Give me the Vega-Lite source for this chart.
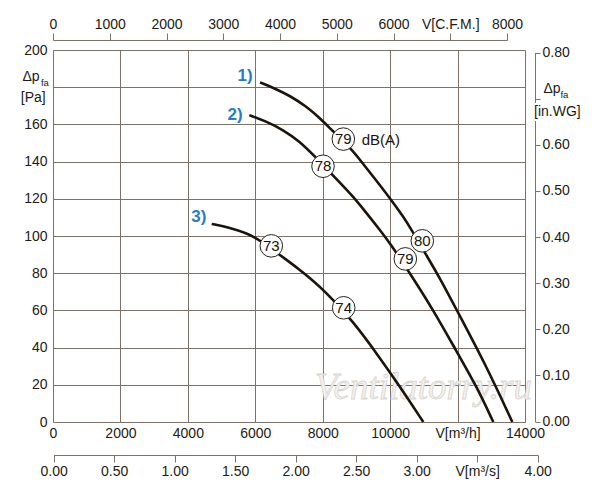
{
  "$schema": "https://vega.github.io/schema/vega-lite/v6.json",
  "width": 472,
  "height": 372,
  "autosize": {"type": "none"},
  "padding": {"left": 53, "top": 50, "right": 75, "bottom": 78},
  "background": "white",
  "config": {
    "font": "Liberation Sans",
    "view": {"stroke": null},
    "axis": {
      "labelFont": "Liberation Sans",
      "labelFontSize": 14,
      "labelColor": "#231a12",
      "domainColor": "#7d7168",
      "tickColor": "#7d7168",
      "gridColor": "#7d7168",
      "gridOpacity": 1,
      "gridWidth": 1,
      "labelOverlap": false,
      "labelFlush": false,
      "labelBound": false,
      "title": null
    }
  },
  "datasets": {
    "curves": [
      {"curve": "1", "q": 6140, "p": 182.6},
      {"curve": "1", "q": 6534, "p": 179.7},
      {"curve": "1", "q": 7030, "p": 175.4},
      {"curve": "1", "q": 7525, "p": 169.5},
      {"curve": "1", "q": 7920, "p": 163.3},
      {"curve": "1", "q": 8266, "p": 157.0},
      {"curve": "1", "q": 8860, "p": 146.6},
      {"curve": "1", "q": 9106, "p": 140.9},
      {"curve": "1", "q": 9501, "p": 131.9},
      {"curve": "1", "q": 9996, "p": 120.3},
      {"curve": "1", "q": 10390, "p": 110.4},
      {"curve": "1", "q": 10639, "p": 103.2},
      {"curve": "1", "q": 11034, "p": 90.9},
      {"curve": "1", "q": 11479, "p": 77.3},
      {"curve": "1", "q": 11974, "p": 60.2},
      {"curve": "1", "q": 12864, "p": 29.7},
      {"curve": "1", "q": 13624, "p": 0},
      {"curve": "2", "q": 5823, "p": 165.0},
      {"curve": "2", "q": 6339, "p": 161.5},
      {"curve": "2", "q": 6831, "p": 157.0},
      {"curve": "2", "q": 7326, "p": 150.7},
      {"curve": "2", "q": 7673, "p": 144.5},
      {"curve": "2", "q": 8513, "p": 128.7},
      {"curve": "2", "q": 8907, "p": 121.1},
      {"curve": "2", "q": 9305, "p": 112.2},
      {"curve": "2", "q": 9699, "p": 103.2},
      {"curve": "2", "q": 9996, "p": 96.1},
      {"curve": "2", "q": 10589, "p": 79.9},
      {"curve": "2", "q": 11280, "p": 60.2},
      {"curve": "2", "q": 11974, "p": 37.8},
      {"curve": "2", "q": 12568, "p": 19.0},
      {"curve": "2", "q": 13060, "p": 0},
      {"curve": "3", "q": 4707, "p": 106.5},
      {"curve": "3", "q": 5250, "p": 104.5},
      {"curve": "3", "q": 5745, "p": 101.5},
      {"curve": "3", "q": 6089, "p": 98.4},
      {"curve": "3", "q": 6932, "p": 87.1},
      {"curve": "3", "q": 7326, "p": 81.7},
      {"curve": "3", "q": 7623, "p": 77.4},
      {"curve": "3", "q": 7920, "p": 72.6},
      {"curve": "3", "q": 8266, "p": 66.5},
      {"curve": "3", "q": 8907, "p": 53.9},
      {"curve": "3", "q": 9601, "p": 36.9},
      {"curve": "3", "q": 10292, "p": 19.0},
      {"curve": "3", "q": 10984, "p": 0}
    ],
    "noise": [
      {"q": 8611, "p": 152.1, "db": "79"},
      {"q": 10954, "p": 97.4, "db": "80"},
      {"q": 8009, "p": 137.5, "db": "78"},
      {"q": 10450, "p": 87.7, "db": "79"},
      {"q": 6475, "p": 94.7, "db": "73"},
      {"q": 8622, "p": 61.4, "db": "74"}
    ],
    "curveLabels": [
      {"q": 5695, "p": 186.0, "t": "1)"},
      {"q": 5398, "p": 165.0, "t": "2)"},
      {"q": 4325, "p": 110.4, "t": "3)"}
    ],
    "unitText": [
      {"q": -652, "p": 185.3, "t": "Δp"},
      {"q": -584, "p": 174.0, "t": "[Pa]"},
      {"q": 14800, "p": 178.8, "t": "Δp"},
      {"q": 14960, "p": 166.8, "t": "[in.WG]"}
    ],
    "subText": [
      {"q": -240, "p": 182.0, "t": "fa"},
      {"q": 15170, "p": 175.6, "t": "fa"}
    ],
    "dbText": [{"q": 9156, "p": 151.6, "t": "dB(A)"}],
    "watermark": [{"q": 10989, "p": 18.3, "t": "Ventilatorry.ru"}],
    "cfm": [{"cfm": 0}, {"cfm": 8000}],
    "m3s": [{"m3s": 0}, {"m3s": 4}],
    "inwg": [{"wg": 0}, {"wg": 0.8}]
  },
  "layer": [
    {
      "encoding": {
        "x": {
          "field": "q",
          "type": "quantitative",
          "scale": {"domain": [0, 14000], "nice": false, "zero": false},
          "axis": {
            "orient": "bottom",
            "values": [0, 2000, 4000, 6000, 8000, 10000, 12000, 14000],
            "format": "d",
            "labelExpr": "datum.value == 12000 ? 'V[m³/h]' : datum.label",
            "ticks": false,
            "domain": false,
            "grid": true,
            "labelPadding": 4
          }
        },
        "y": {
          "field": "p",
          "type": "quantitative",
          "scale": {"domain": [0, 200], "nice": false, "zero": false},
          "axis": {
            "orient": "left",
            "values": [0, 20, 40, 60, 80, 100, 120, 140, 160, 180, 200],
            "format": "d",
            "labelExpr": "datum.value == 180 ? '' : datum.label",
            "ticks": false,
            "domain": false,
            "grid": true,
            "labelPadding": 6
          }
        }
      },
      "layer": [
        {
          "data": {"name": "watermark"},
          "mark": {
            "type": "text",
            "font": "Liberation Serif",
            "fontStyle": "italic",
            "fontSize": 37,
            "fill": "#f3f1ef",
            "stroke": "#d9d4cf",
            "strokeWidth": 0.8,
            "align": "center",
            "baseline": "middle"
          },
          "encoding": {"text": {"field": "t"}}
        },
        {
          "data": {"name": "curves"},
          "mark": {
            "type": "line",
            "interpolate": "basis",
            "color": "#1c130b",
            "strokeWidth": 2.6
          },
          "encoding": {"detail": {"field": "curve"}}
        },
        {
          "data": {"name": "noise"},
          "mark": {
            "type": "point",
            "shape": "circle",
            "filled": true,
            "fill": "white",
            "stroke": "#2a2018",
            "strokeWidth": 1,
            "size": 510,
            "opacity": 1
          }
        },
        {
          "data": {"name": "noise"},
          "mark": {
            "type": "text",
            "fontSize": 15,
            "color": "#1c130b",
            "align": "center",
            "baseline": "middle"
          },
          "encoding": {"text": {"field": "db"}}
        },
        {
          "data": {"name": "curveLabels"},
          "mark": {
            "type": "text",
            "fontSize": 17,
            "fontWeight": "bold",
            "color": "#2b7cc2",
            "align": "center",
            "baseline": "middle"
          },
          "encoding": {"text": {"field": "t"}}
        },
        {
          "data": {"name": "dbText"},
          "mark": {
            "type": "text",
            "fontSize": 15,
            "color": "#1c130b",
            "align": "left",
            "baseline": "middle"
          },
          "encoding": {"text": {"field": "t"}}
        },
        {
          "data": {"name": "unitText"},
          "mark": {
            "type": "text",
            "fontSize": 14,
            "stroke": "white",
            "strokeWidth": 4,
            "fill": "white",
            "align": "center",
            "baseline": "middle"
          },
          "encoding": {"text": {"field": "t"}}
        },
        {
          "data": {"name": "unitText"},
          "mark": {
            "type": "text",
            "fontSize": 14,
            "color": "#231a12",
            "align": "center",
            "baseline": "middle"
          },
          "encoding": {"text": {"field": "t"}}
        },
        {
          "data": {"name": "subText"},
          "mark": {
            "type": "text",
            "fontSize": 9.5,
            "color": "#231a12",
            "align": "center",
            "baseline": "middle"
          },
          "encoding": {"text": {"field": "t"}}
        },
        {
          "data": {"values": [{}]},
          "mark": {
            "type": "rect",
            "filled": false,
            "stroke": "#1c130b",
            "strokeWidth": 3
          },
          "encoding": {
            "x": {"datum": 0, "type": "quantitative"},
            "x2": {"datum": 14000},
            "y": {"datum": 0, "type": "quantitative"},
            "y2": {"datum": 200}
          }
        }
      ]
    },
    {
      "data": {"name": "cfm"},
      "mark": {"type": "point", "opacity": 0},
      "encoding": {
        "x": {
          "field": "cfm",
          "type": "quantitative",
          "scale": {"domain": [0, 8000], "range": [0, 454], "nice": false, "zero": false},
          "axis": {
            "orient": "top",
            "offset": 10,
            "values": [0, 1000, 2000, 3000, 4000, 5000, 6000, 7000, 8000],
            "format": "d",
            "labelExpr": "datum.value == 7000 ? 'V[C.F.M.]' : datum.label",
            "tickSize": 7,
            "labelPadding": 2,
            "grid": false
          }
        }
      }
    },
    {
      "data": {"name": "m3s"},
      "mark": {"type": "point", "opacity": 0},
      "encoding": {
        "x": {
          "field": "m3s",
          "type": "quantitative",
          "scale": {"domain": [0, 4], "range": [0.7, 484.7], "nice": false, "zero": false},
          "axis": {
            "orient": "bottom",
            "offset": 33,
            "values": [0, 0.5, 1, 1.5, 2, 2.5, 3, 3.5, 4],
            "format": ".2f",
            "labelExpr": "datum.value == 3.5 ? 'V[m³/s]' : datum.label",
            "tickSize": 7,
            "labelPadding": 2,
            "grid": false
          }
        }
      }
    },
    {
      "data": {"name": "inwg"},
      "mark": {"type": "point", "opacity": 0},
      "encoding": {
        "y": {
          "field": "wg",
          "type": "quantitative",
          "scale": {"domain": [0, 0.8], "range": [371.5, 2.5], "nice": false, "zero": false},
          "axis": {
            "orient": "right",
            "offset": 10,
            "values": [0, 0.1, 0.2, 0.3, 0.4, 0.5, 0.6, 0.7, 0.8],
            "format": ".2f",
            "labelExpr": "datum.value == 0.7 ? '' : datum.label",
            "tickSize": 5,
            "labelPadding": 2,
            "grid": false
          }
        }
      }
    }
  ],
  "resolve": {
    "scale": {"x": "independent", "y": "independent"},
    "axis": {"x": "independent", "y": "independent"}
  }
}
